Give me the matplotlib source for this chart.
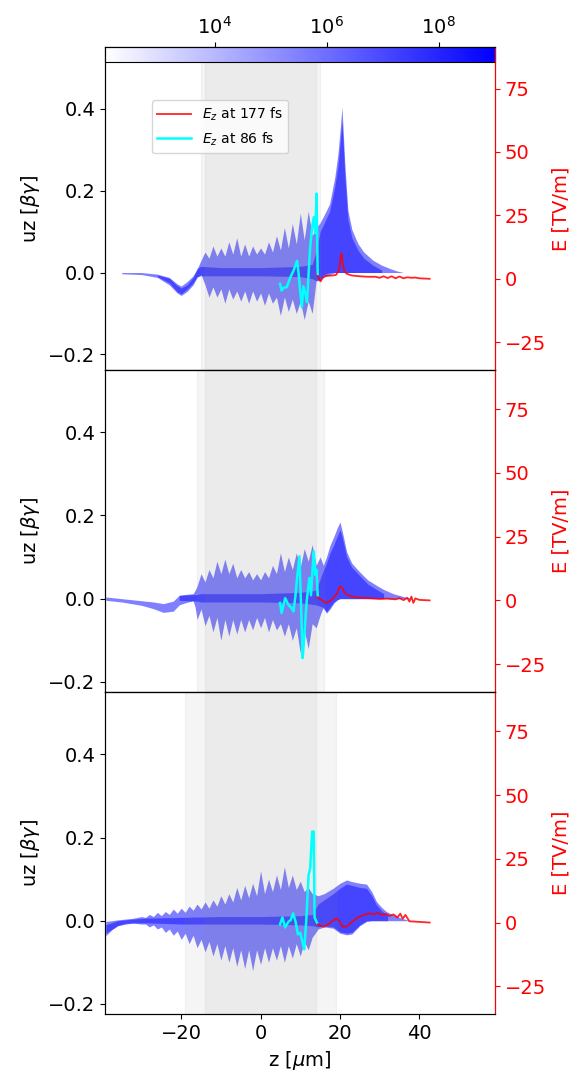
import matplotlib
matplotlib.use('Agg')
import matplotlib.pyplot as plt
from matplotlib.colors import LinearSegmentedColormap, LogNorm

plt.rcParams['font.size'] = 14

# ---- phase space envelopes (z in um, uz in beta*gamma) ----
# panel 1
z1 = [-35, -30, -26, -23, -21, -20, -18.5, -17, -16] + list(range(-15, 15)) + \
     [14.9, 16, 17.4, 18.7, 19.5, 20.1, 20.5, 20.9, 21.2, 22.0, 23, 24.5, 26, 28.3, 30.5, 32.5, 34.3, 36]
up1 = [0.0, 0.0, -0.004, -0.012, -0.028, -0.033, -0.022, -0.008, 0.008,
       0.03, 0.05, 0.035, 0.065, 0.04, 0.06, 0.04, 0.075, 0.045, 0.085, 0.04, 0.07, 0.04, 0.065, 0.045,
       0.06, 0.045, 0.075, 0.05, 0.09, 0.055, 0.11, 0.06, 0.12, 0.07, 0.145, 0.08, 0.15, 0.09, 0.11,
       0.12, 0.14, 0.168, 0.233, 0.29, 0.355, 0.404, 0.33, 0.27, 0.152, 0.105, 0.071, 0.05, 0.03, 0.018, 0.01, 0.004, 0.0]
lo1 = [-0.003, -0.005, -0.012, -0.03, -0.05, -0.056, -0.046, -0.03, -0.012,
       -0.005, -0.03, -0.06, -0.035, -0.06, -0.04, -0.075, -0.04, -0.065, -0.045, -0.07, -0.045, -0.075, -0.045, -0.07,
       -0.05, -0.08, -0.05, -0.075, -0.06, -0.105, -0.06, -0.095, -0.065, -0.1, -0.07, -0.115, -0.07, -0.1, -0.02,
       -0.02, -0.01, -0.005, 0, 0, 0, 0, 0, 0, 0, 0, 0, 0, 0, 0, 0, 0, 0]
zc1 = [-26, -23, -21, -20, -18.5, -17, -16, -15, -10, 0, 10, 13, 14, 15, 16, 17.4, 18.7, 19.5, 20.1, 20.5,
       20.9, 21.2, 22, 23, 24.5, 26, 28.3, 30.5]
upc1 = [-0.006, -0.014, -0.032, -0.038, -0.03, -0.012, 0.01, 0.015, 0.012, 0.012, 0.015, 0.02, 0.05, 0.1, 0.12,
        0.15, 0.21, 0.26, 0.32, 0.37, 0.3, 0.24, 0.13, 0.085, 0.055, 0.035, 0.018, 0.006]
loc1 = [-0.01, -0.025, -0.047, -0.052, -0.04, -0.025, -0.01, -0.008, -0.008, -0.008, -0.01, -0.015, -0.02, -0.015,
        -0.005, 0, 0, 0, 0, 0, 0, 0, 0, 0, 0, 0, 0, 0]

# panel 2
z2 = [-39, -35, -30, -27, -24.5, -22, -20.5, -19, -17, -16.5] + list(range(-16, 16)) + \
     [15.8, 16.6, 17.5, 18.5, 19.3, 20.0, 20.5, 21.7, 23, 25, 27, 29.2, 31, 33.4, 36, 38.4]
up2 = [0.004, 0.0, -0.005, -0.008, -0.012, -0.006, 0.008, 0.01, 0.012, 0.02,
       0.03, 0.06, 0.04, 0.07, 0.05, 0.09, 0.06, 0.095, 0.06, 0.085, 0.05, 0.07, 0.05, 0.065, 0.045, 0.06,
       0.045, 0.065, 0.05, 0.08, 0.06, 0.11, 0.065, 0.1, 0.07, 0.11, 0.075, 0.12, 0.09, 0.13, 0.08, 0.1,
       0.08, 0.1, 0.128, 0.15, 0.17, 0.184, 0.165, 0.112, 0.085, 0.064, 0.045, 0.032, 0.022, 0.012, 0.005, 0.0]
lo2 = [-0.004, -0.008, -0.016, -0.024, -0.033, -0.03, -0.015, -0.01, -0.005, -0.02,
       -0.05, -0.025, -0.065, -0.04, -0.08, -0.045, -0.1, -0.05, -0.09, -0.05, -0.085, -0.05, -0.08, -0.05, -0.075, -0.045,
       -0.07, -0.045, -0.08, -0.05, -0.075, -0.06, -0.09, -0.06, -0.1, -0.07, -0.13, -0.075, -0.12, -0.06, -0.07, -0.04,
       -0.02, -0.035, -0.025, -0.01, -0.003, 0, 0, 0, 0, 0, 0, 0, 0, 0, 0, 0]
zc2 = [-20.5, -16, -15, 0, 10, 14, 15.5, 16.6, 17.5, 18.5, 19.3, 20, 20.5, 21.7, 23, 25, 27, 29.2, 31]
upc2 = [0.008, 0.01, 0.012, 0.012, 0.015, 0.02, 0.06, 0.085, 0.11, 0.13, 0.15, 0.165, 0.15, 0.1, 0.075, 0.055,
        0.035, 0.022, 0.012]
loc2 = [-0.004, -0.006, -0.008, -0.008, -0.01, -0.015, -0.02, -0.032, -0.02, -0.008, -0.003, 0, 0, 0, 0, 0,
        0, 0, 0]

# panel 3
z3 = [-39, -37.5, -36, -34, -32, -30] + list(range(-29, 14)) + \
     [14.5, 16, 18.3, 20, 21.7, 23, 25, 26.7, 28, 29.2, 30.5, 31.7, 33.4, 35.5, 37.6]
up3 = [-0.002, 0.0, 0.002, 0.004, 0.006, 0.01,
       0.008, 0.015, 0.01, 0.02, 0.012, 0.022, 0.015, 0.028, 0.018, 0.03, 0.02, 0.035, 0.025, 0.04, 0.028,
       0.045, 0.03, 0.05, 0.035, 0.06, 0.04, 0.065, 0.045, 0.08, 0.05, 0.085, 0.055, 0.09, 0.06, 0.12,
       0.065, 0.1, 0.07, 0.11, 0.075, 0.13, 0.08, 0.11, 0.075, 0.095, 0.07, 0.08, 0.065,
       0.06, 0.065, 0.078, 0.09, 0.098, 0.094, 0.09, 0.088, 0.07, 0.046, 0.032, 0.022, 0.014, 0.006, 0.0]
lo3 = [-0.036, -0.022, -0.012, -0.006, -0.006, -0.008,
       -0.008, -0.015, -0.01, -0.02, -0.015, -0.028, -0.02, -0.035, -0.025, -0.045, -0.03, -0.055, -0.035, -0.065, -0.045,
       -0.075, -0.05, -0.085, -0.055, -0.095, -0.06, -0.1, -0.065, -0.11, -0.07, -0.115, -0.07, -0.12, -0.07, -0.105,
       -0.065, -0.1, -0.065, -0.095, -0.06, -0.1, -0.06, -0.09, -0.055, -0.085, -0.05, -0.07, -0.04,
       -0.02, -0.015, -0.018, -0.03, -0.034, -0.032, -0.012, -0.002, 0, 0, 0, 0, 0, 0, 0]
zc3 = [-39, -36, -32, -29, -20, -10, 0, 10, 13, 14.5, 16, 18.3, 20, 21.7, 23, 25, 26.7, 28, 29.2, 30.5, 32]
upc3 = [-0.01, 0.0, 0.004, 0.006, 0.008, 0.01, 0.01, 0.012, 0.015, 0.04, 0.05, 0.065, 0.078, 0.088, 0.085,
        0.08, 0.078, 0.06, 0.038, 0.024, 0.012]
loc3 = [-0.03, -0.012, -0.005, -0.005, -0.008, -0.008, -0.008, -0.01, -0.012, -0.015, -0.012, -0.015, -0.027,
        -0.03, -0.028, -0.01, 0, 0, 0, 0, 0]

# ---- E_z at 177 fs (red) ----
zr1 = [14.1, 14.6, 15.1, 15.6, 16.2, 17, 18, 19, 19.8, 20.1, 20.4, 20.7, 21.1, 21.7, 23, 25, 27, 29, 30, 31, 32, 33, 34, 35, 36, 37, 38, 39, 40, 42.6]
er1 = [2.0, 0.5, -1.0, 0.3, 1.0, 1.2, 1.3, 1.5, 3.5, 8, 10, 6, 3, 2, 1.3, 1.0, 0.8, 0.8, 0.4, 1.0, 0.3, 1.0, 0.2, 0.9, 0.2, 0.6, 0.4, 0.5, 0.2, 0.0]
zr2 = [14.1, 15, 16, 16.6, 17.5, 18.3, 19.2, 20, 20.5, 21.2, 22, 24, 26, 28, 30, 32, 34, 35, 36, 37, 37.5, 38, 38.5, 39, 40, 42.6]
er2 = [1.6, 0.5, -0.5, -1.0, -0.2, 0.9, 2.5, 5.5, 5.0, 3.0, 2.0, 1.2, 1.0, 0.8, 0.6, 0.7, 0.4, 0.9, 0.1, 1.0, -0.5, 1.5, -1.0, 0.8, 0.2, 0.0]
zr3 = [14.1, 15, 16, 17, 18, 19.1, 20, 20.6, 21.7, 22.5, 24, 25, 26, 27.5, 28.5, 29.5, 30.5, 31.5, 32.5, 33.5, 34.5, 35.2, 35.8, 36.5, 37.5, 38.5, 42.6]
er3 = [-0.3, -1.2, -1.6, -0.8, 0.5, 1.6, 0.5, -1.6, -1.6, -0.5, 1.5, 2.3, 3.0, 3.6, 3.2, 3.8, 3.0, 3.4, 2.6, 3.2, 2.0, 3.5, 1.5, 3.0, 0.5, 0.4, 0.0]

# ---- E_z at 86 fs (cyan) ----
zb1 = [4.9, 5.3, 5.8, 6.6, 7.5, 8.3, 9.2, 9.6, 10.0, 10.4, 10.8, 11.3, 11.7, 12.1, 12.5, 13.0, 13.4, 13.8, 14.1, 14.4]
eb1 = [-2.0, -4.6, -3.5, -3.3, 0.6, 3.2, 7.1, 1.9, -5, -11.2, -3, -6, -9.2, 2, 12.5, 20.4, 24.3, 18, 33.6, 1.9]
zb2 = [4.9, 5.3, 6.2, 7.0, 7.8, 8.3, 8.8, 9.2, 9.8, 10.3, 10.6, 11.0, 11.4, 11.7, 12.3, 12.7, 13.1, 13.4, 13.8, 14.1, 14.4]
eb2 = [-1.0, -4.9, 0.9, -1.7, -3.0, -4.3, 2.0, 8.8, 17.3, -6.9, -22.6, -14.8, -5, 0.9, 8.8, 2.0, 12, 19.2, 10, 12, 2]
zb3 = [4.9, 5.5, 6.2, 7.0, 7.6, 8.2, 8.8, 9.4, 10.0, 10.6, 11.0, 11.5, 12.1, 12.5, 13.0, 13.4, 13.6, 14.2]
eb3 = [-0.7, 2.0, -1.9, 0.3, 1.0, 3.6, 0.5, -4.6, -4.0, -7.9, -10.5, 0.5, 18.7, 21.3, 35.7, 35.7, 2, 0]

# shaded windows (half widths, um)
inner_half = 14
outer_half = [15, 16, 19]

uz_lims = [(-0.237, 0.55), (-0.224, 0.55), (-0.225, 0.55)]
e_lims = [(-35.8, 91.3), (-35.9, 90.5), (-36.0, 90.5)]

panels = [(z1, up1, lo1, zc1, upc1, loc1, zr1, er1, zb1, eb1),
          (z2, up2, lo2, zc2, upc2, loc2, zr2, er2, zb2, eb2),
          (z3, up3, lo3, zc3, upc3, loc3, zr3, er3, zb3, eb3)]

fig, axes = plt.subplots(3, 1, figsize=(5.8, 10.74), dpi=100, sharex=True)
fig.subplots_adjust(left=0.181, right=0.853, bottom=0.0556, top=0.956, hspace=0)

for i, ax in enumerate(axes):
    z, up, lo, zc, upc, loc, zr, er, zb, eb = panels[i]
    ax.fill_between(z, lo, up, color='blue', alpha=0.5, lw=0)
    ax.fill_between(zc, loc, upc, color='blue', alpha=0.45, lw=0)
    ax.axvspan(-outer_half[i], outer_half[i], color='grey', alpha=0.08)
    ax.axvspan(-inner_half, inner_half, color='grey', alpha=0.08)
    ax.set_xlim(-39.2, 59)
    ax.set_ylim(*uz_lims[i])
    ax.set_yticks([-0.2, 0.0, 0.2, 0.4])
    ax.set_ylabel(r'uz [$\beta\gamma$]')
    if i < 2:
        ax.tick_params(axis='x', bottom=False)

    axr = ax.twinx()
    l1, = axr.plot(zr, er, color='red', lw=1.3, alpha=0.85, label=r'$E_z$ at 177 fs')
    l2, = axr.plot(zb, eb, color='cyan', lw=1.8, label=r'$E_z$ at 86 fs')
    axr.set_ylim(*e_lims[i])
    axr.set_yticks([-25, 0, 25, 50, 75])
    axr.set_ylabel('E [TV/m]', color='red')
    axr.tick_params(axis='y', colors='red')
    axr.spines['right'].set_color('red')
    if i == 0:
        axr.legend(handles=[l1, l2], loc='upper left', bbox_to_anchor=(0.12, 0.835),
                   borderaxespad=0, fontsize=10, handlelength=2.4)

axes[2].set_xticks([-20, 0, 20, 40])
axes[2].set_xlabel(r'z [$\mu$m]')

# colour bar sitting on top of the first panel
cmap = LinearSegmentedColormap.from_list('wb', ['white', 'blue'])
cax = axes[0].inset_axes([0, 0.954, 1, 0.046])
sm = plt.cm.ScalarMappable(norm=LogNorm(110, 1e9), cmap=cmap)
cb = fig.colorbar(sm, cax=cax, orientation='horizontal')
cax.xaxis.set_ticks_position('top')
cb.set_ticks([1e4, 1e6, 1e8])
cax.minorticks_off()

plt.savefig('out.png')
